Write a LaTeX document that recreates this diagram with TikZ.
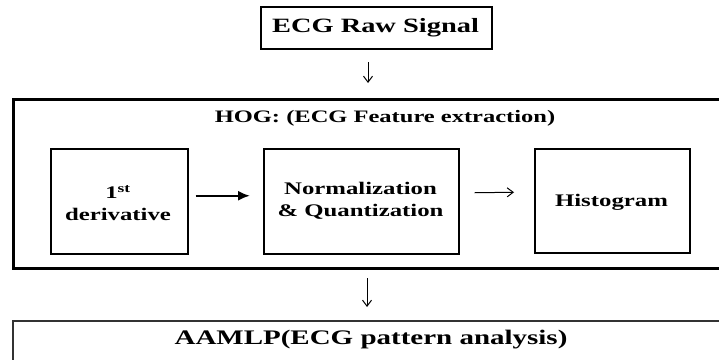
\documentclass[tikz,border=0pt]{standalone}
\usepackage{fontspec}
\setmainfont{Liberation Serif}[FakeStretch=1.4]
\usetikzlibrary{arrows.meta}
\begin{document}
\begin{tikzpicture}[x=1pt,y=-1pt,
  lbl/.style={font=\bfseries\fontsize{17.7}{22}\selectfont, align=center, inner sep=0pt},
  stagebox/.style={draw, line width=1.5pt, anchor=north west, inner sep=0pt},
  downarrow/.style={line width=1pt, -{Straight Barb[length=6pt,width=9pt]}},
]
\clip (0,0) rectangle (719,359);
% top box
\node[draw, line width=1.5pt, minimum width=231pt, minimum height=42pt, anchor=north west] (ecg) at (260,6) {};
\node[lbl, font=\bfseries\fontsize{20.3}{24}\selectfont] (ecgt) at (375.5,28) {ECG Raw Signal};
% HOG frame
\node[draw, line width=3pt, minimum width=730pt, minimum height=169pt, anchor=north west, inner sep=0pt] (hog) at (12,98) {};
\node[lbl, font=\bfseries\fontsize{17.5}{21}\selectfont] (hogt) at (385,118) {HOG: (ECG Feature extraction)};
% stage boxes
\node[stagebox, minimum width=137pt, minimum height=105pt] (b1) at (50,148) {};
\node[stagebox, minimum width=195pt, minimum height=105pt] (b2) at (263,148) {};
\node[stagebox, minimum width=155pt, minimum height=104pt] (b3) at (534,148) {};
\node[lbl] (b1t) at (118,203) {1\textsuperscript{st}\\derivative};
\node[lbl] (b2t) at (360.5,201) {Normalization\\\& Quantization};
\node[lbl] (b3t) at (611.5,202) {Histogram};
% bottom box
\node[draw, line width=1.5pt, draw=black!80, minimum width=730pt, minimum height=80pt, anchor=north west, inner sep=0pt] (aam) at (12,320) {};
\node[lbl, font=\bfseries\fontsize{20.7}{24}\selectfont] (aamt) at (371,340) {AAMLP(ECG pattern analysis)};
% connectors
\coordinate (d1s) at (368,62);
\coordinate (d1e) at (368,83);
\coordinate (d2s) at (367,278);
\coordinate (d2e) at (367,307);
\draw[downarrow] (d1s) -- (d1e);
\draw[downarrow] (d2s) -- (d2e);
\draw[line width=2pt, -{Latex[length=12pt,width=10pt]}] ([xshift=7pt,yshift=5.5pt]b1.east) -- ([xshift=-13pt,yshift=5.5pt]b2.west);
\draw[line width=1pt, -{Straight Barb[length=6pt,width=9pt]}] ([xshift=15pt,yshift=8.5pt]b2.east) -- ([xshift=-20pt,yshift=8.5pt]b3.west);
\end{tikzpicture}
\end{document}
